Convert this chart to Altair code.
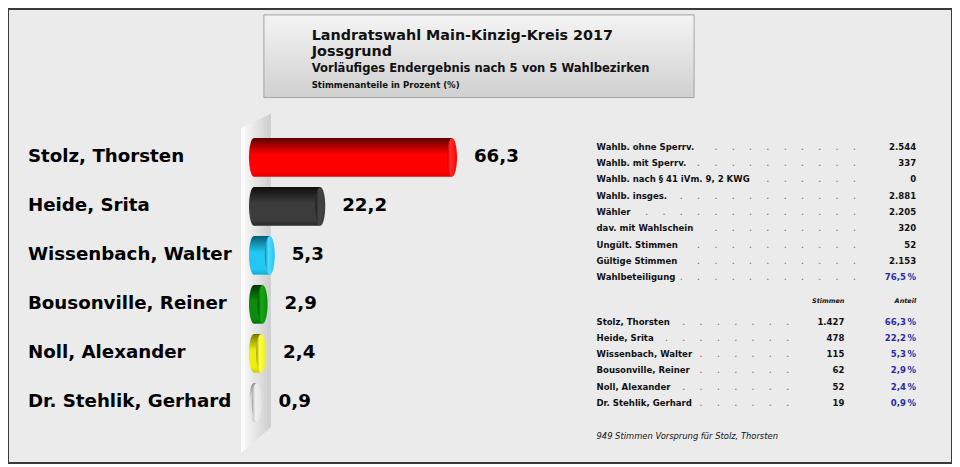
import altair as alt
import pandas as pd

# ---------------- data ----------------
names = ["Stolz, Thorsten", "Heide, Srita", "Wissenbach, Walter",
         "Bousonville, Reiner", "Noll, Alexander", "Dr. Stehlik, Gerhard"]
shares = [66.3, 22.2, 5.3, 2.9, 2.4, 0.9]
votes = [1427, 478, 115, 62, 52, 19]
bar_colors = ["#ff0000", "#343434", "#1ec4ec", "#0b8a0b", "#e6e600", "#dedede"]

stat_labels = ["Wahlb. ohne Sperrv.", "Wahlb. mit Sperrv.", "Wahlb. nach § 41 iVm. 9, 2 KWG",
               "Wahlb. insges.", "Wähler", "dav. mit Wahlschein", "Ungült. Stimmen",
               "Gültige Stimmen", "Wahlbeteiligung"]
stat_values = ["2.544", "337", "0", "2.881", "2.205", "320", "52", "2.153", "76,5\u2009%"]

title_lines = ["Landratswahl Main-Kinzig-Kreis 2017", "Jossgrund",
               "Vorläufiges Endergebnis nach 5 von 5 Wahlbezirken",
               "Stimmenanteile in Prozent (%)"]
col_headers = ["Stimmen", "Anteil"]

# ---------------- styles / layout ----------------
FONT = "DejaVu Sans"
BLUE = "#2a2aa8"
shade = {  # dark top, base, bottom, cap edge, cap light
    "#ff0000": ("#5a0000", "#ff0000", "#e40000", "#c80000", "#ff2a2a"),
    "#343434": ("#0e0e0e", "#3c3c3c", "#2a2a2a", "#1e1e1e", "#444444"),
    "#1ec4ec": ("#0a5a74", "#22c8f2", "#16aad2", "#0f86aa", "#50daff"),
    "#0b8a0b": ("#003400", "#0c8c0c", "#067006", "#045204", "#14a814"),
    "#e6e600": ("#767600", "#eeee10", "#cccc00", "#a0a000", "#ffff50"),
    "#dedede": ("#8e8e8e", "#e4e4e4", "#cdcdcd", "#a0a0a0", "#efefef"),
}

W = {' ': .348, '.': .378, ',': .378, '-': .415, '§': .5, '(': .457, ')': .457, '%': 1.002,
     'A': .774, 'B': .762, 'D': .830, 'G': .821, 'H': .837, 'K': .776, 'L': .637, 'M': .995,
     'N': .837, 'R': .770, 'S': .720, 'T': .683, 'U': .815, 'V': .774, 'W': 1.103,
     'a': .675, 'b': .716, 'c': .593, 'd': .716, 'e': .678, 'f': .435, 'g': .716, 'h': .712,
     'i': .343, 'k': .665, 'l': .343, 'm': 1.042, 'n': .712, 'o': .687, 'p': .716, 'r': .493,
     's': .595, 't': .478, 'u': .712, 'v': .652, 'w': .924, 'x': .645, 'y': .652, 'z': .582,
     'ä': .675, 'ü': .712}


def text_w(s, size):
    return sum(W.get(c, 0.696) for c in s) * size


def leader(label, size, start, last_dot, step=17.4):
    end = start + text_w(label, size)
    n = 0
    x = last_dot
    while x > end + 4:
        n += 1
        x -= step
    nb = "\u00a0" * 4
    return (("." + nb) * (n - 1) + ".") if n > 0 else ""


def grad(stops, horizontal=False):
    return {"gradient": "linear", "x1": 0, "y1": 0,
            "x2": 1 if horizontal else 0, "y2": 0 if horizontal else 1,
            "stops": [{"offset": o, "color": c} for o, c in stops]}


def de(v, d=1):
    return f"{v:.{d}f}".replace(".", ",")


def thousands(v):
    return f"{v:,}".replace(",", ".")


ELLIPSE = ("M0,-1 C0.1413,-1 0.256,-0.5523 0.256,0 C0.256,0.5523 0.1413,1 0,1 "
           "C-0.1413,1 -0.256,0.5523 -0.256,0 C-0.256,-0.5523 -0.1413,-1 0,-1 Z")
WALL = "M-0.0901,-0.907 L0.0901,-0.994 L0.0901,0.837 L-0.0901,0.994 Z"

TS = 8.6  # table font size

cand = pd.DataFrame({
    "name": names, "share": shares, "votes": votes, "color": bar_colors,
    "share_txt": [de(v) for v in shares],
    "votes_txt": [thousands(v) for v in votes],
    "pct_txt": [de(v) + "\u2009%" for v in shares],
    "row": list(range(len(names))),
})
cand["dots"] = [leader(n, TS, 599, 791) for n in names]

stats = pd.DataFrame({"label": stat_labels, "value": stat_values,
                      "row": list(range(len(stat_labels)))})
stats["vcol"] = ["#111111"] * (len(stat_labels) - 1) + [BLUE]
stats["dots"] = [leader(l, TS, 599, 858) for l in stat_labels]

one = pd.DataFrame({"a": [0]})

XS = alt.Scale(domain=[0, 100], range=[247, 547])
YS = alt.Scale(type="band", domain=names, range=[124.4, 419.6],
               paddingInner=0.21, paddingOuter=0.105)
T1 = alt.Scale(domain=[0, 8], range=[138.5, 269.5], nice=False, zero=False)
T2 = alt.Scale(domain=[0, 5], range=[314, 395.5], nice=False, zero=False)


def yb():
    return alt.Y("name:N", scale=YS, axis=None)


layers = []

# title box
layers.append(alt.Chart(one).mark_rect(
    fill=grad([(0, "#f4f4f4"), (1, "#d0d0d0")]), stroke="#a4a4a4", strokeWidth=1
).encode(x=alt.value(257), x2=alt.value(689), y=alt.value(6), y2=alt.value(89)))
for line, size, ybase in zip(title_lines, [14.4, 14.4, 11.6, 8.6], [31, 47, 63, 79]):
    layers.append(alt.Chart(one).mark_text(
        text=line, align="left", baseline="alphabetic", font=FONT, fontWeight="bold",
        fontSize=size, color="#111111"
    ).encode(x=alt.value(305), y=alt.value(ybase)))

# wall behind the bars
layers.append(alt.Chart(one).mark_point(
    shape=WALL, size=118336, filled=True, opacity=1, strokeWidth=0,
    fill=grad([(0, "#d8d8d8"), (0.04, "#ffffff"), (0.22, "#f3f3f3"), (1, "#cdcdcd")], True)
).encode(x=alt.value(248.5), y=alt.value(276)))

# cylinders
base = alt.Chart(cand)
for n, c in zip(names, bar_colors):
    dk, bs, bt, ce, cl = shade[c]
    body = grad([(0, dk), (0.42, bs), (0.86, bs), (1, bt)])
    cap = grad([(0, ce), (0.35, cl), (1, bs)], True)
    sub = base.transform_filter(alt.datum.name == n)
    layers.append(sub.transform_calculate(zero="0").mark_point(
        shape=ELLIPSE, size=1521, filled=True, opacity=1, strokeWidth=0, fill=body
    ).encode(x=alt.X("zero:Q", scale=XS, axis=None), y=yb()))
    layers.append(sub.mark_bar(fill=body).encode(
        x=alt.X("share:Q", scale=XS, axis=None), y=yb()))
    layers.append(sub.mark_point(
        shape=ELLIPSE, size=1521, filled=True, opacity=1, strokeWidth=0, fill=cap
    ).encode(x=alt.X("share:Q", scale=XS, axis=None), y=yb()))

# names and values
layers.append(base.mark_text(align="left", baseline="middle", font=FONT, fontWeight="bold",
                             fontSize=18.3, color="#000000").encode(
    x=alt.value(20), y=yb(), text="name:N"))
layers.append(base.mark_text(align="left", baseline="middle", font=FONT, fontWeight="bold",
                             fontSize=18.3, color="#000000", dx=22).encode(
    x=alt.X("share:Q", scale=XS, axis=None), y=yb(), text="share_txt:N"))

# statistics table
sb = alt.Chart(stats)
ys1 = alt.Y("row:Q", scale=T1, axis=None)
layers.append(sb.mark_text(align="right", baseline="middle", font=FONT, fontSize=10.95,
                           color="#7a7a7a").encode(x=alt.value(851.7), y=ys1, text="dots:N"))
layers.append(sb.mark_text(align="left", baseline="middle", font=FONT, fontWeight="bold",
                           fontSize=TS, color="#111111").encode(x=alt.value(591), y=ys1, text="label:N"))
layers.append(sb.mark_text(align="right", baseline="middle", font=FONT, fontWeight="bold",
                           fontSize=TS).encode(x=alt.value(912), y=ys1, text="value:N",
                                               color=alt.Color("vcol:N", scale=None)))

# candidate table
ys2 = alt.Y("row:Q", scale=T2, axis=None)
layers.append(base.mark_text(align="right", baseline="middle", font=FONT, fontSize=10.95,
                             color="#7a7a7a").encode(x=alt.value(784.7), y=ys2, text="dots:N"))
layers.append(base.mark_text(align="left", baseline="middle", font=FONT, fontWeight="bold",
                             fontSize=TS, color="#111111").encode(x=alt.value(591), y=ys2, text="name:N"))
layers.append(base.mark_text(align="right", baseline="middle", font=FONT, fontWeight="bold",
                             fontSize=TS, color="#111111").encode(x=alt.value(840), y=ys2, text="votes_txt:N"))
layers.append(base.mark_text(align="right", baseline="middle", font=FONT, fontWeight="bold",
                             fontSize=TS, color=BLUE).encode(x=alt.value(912), y=ys2, text="pct_txt:N"))
for h, xr in zip(col_headers, [840, 912]):
    layers.append(alt.Chart(one).mark_text(
        text=h, align="right", baseline="middle", font=FONT, fontWeight="bold",
        fontStyle="italic", fontSize=6.5, color="#111111"
    ).encode(x=alt.value(xr), y=alt.value(293)))

lead = votes[0] - votes[1]
footer = f"{lead} Stimmen Vorsprung für {names[0]}"
layers.append(alt.Chart(one).mark_text(
    text=footer, align="left", baseline="middle", font=FONT, fontStyle="italic",
    fontSize=8.4, color="#111111"
).encode(x=alt.value(591), y=alt.value(429)))

chart = alt.layer(*layers).resolve_scale(x="independent", y="independent").properties(
    width=948, height=456, padding=0, autosize="none", background="#ebebeb"
).configure_view(stroke="#3a3a3a", strokeWidth=2)

chart.save("out.html", embed_options={"renderer": "svg", "actions": False})
